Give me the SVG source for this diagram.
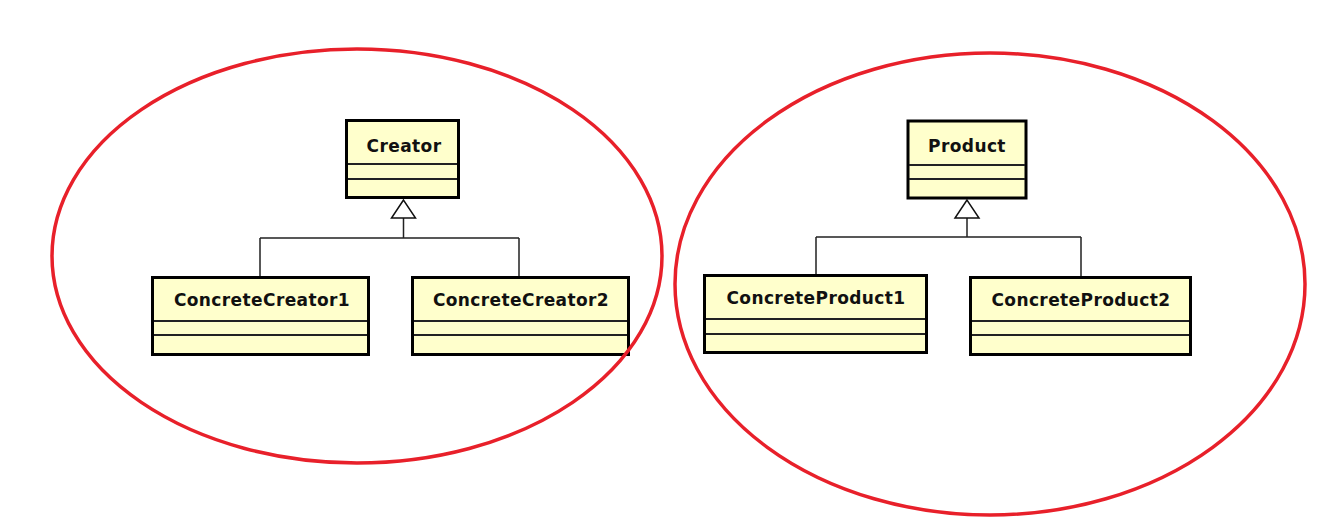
<svg xmlns="http://www.w3.org/2000/svg" width="1336" height="522" viewBox="0 0 1336 522">
<style>
.box{fill:#ffffcc;stroke:#000;stroke-width:3}
.div{stroke:#222;stroke-width:2}
.lbl{font-family:"DejaVu Sans",sans-serif;font-weight:bold;font-size:17px;fill:#111;text-anchor:middle;letter-spacing:0.4px}
.conn{fill:none;stroke:#222;stroke-width:1.5}
.tri{fill:#fff;stroke:#111;stroke-width:1.5}
.oval{fill:none;stroke:#e8202a;stroke-width:3.5}
</style>
<rect width="1336" height="522" fill="#fff"/>
<g id="connectors">
<path class="conn" d="M403.5 218 V238 M260 238 H519 M260 238 V276 M519 238 V276"/>
<path class="tri" d="M403.5 200 L391.5 218 L415.5 218 Z"/>
<path class="conn" d="M967 218 V237 M816 237 H1081 M816 237 V274 M1081 237 V276"/>
<path class="tri" d="M967 200 L955 218 L979 218 Z"/>
</g>
<g id="Creator">
<rect class="box" x="346.5" y="120.5" width="112" height="77"/>
<line class="div" x1="348" y1="164" x2="457" y2="164"/>
<line class="div" x1="348" y1="179" x2="457" y2="179"/>
<text class="lbl" x="404" y="152">Creator</text>
</g>
<g id="ConcreteCreator1">
<rect class="box" x="152.5" y="277.5" width="216" height="77"/>
<line class="div" x1="154" y1="321" x2="367" y2="321"/>
<line class="div" x1="154" y1="335" x2="367" y2="335"/>
<text class="lbl" x="262" y="306">ConcreteCreator1</text>
</g>
<g id="ConcreteCreator2">
<rect class="box" x="412.5" y="277.5" width="216" height="77"/>
<line class="div" x1="414" y1="321" x2="627" y2="321"/>
<line class="div" x1="414" y1="335" x2="627" y2="335"/>
<text class="lbl" x="521" y="306">ConcreteCreator2</text>
</g>
<g id="Product">
<rect class="box" x="908" y="121" width="118" height="77"/>
<line class="div" x1="909" y1="165" x2="1025" y2="165"/>
<line class="div" x1="909" y1="179" x2="1025" y2="179"/>
<text class="lbl" x="967" y="152">Product</text>
</g>
<g id="ConcreteProduct1">
<rect class="box" x="704.5" y="275.5" width="222" height="77"/>
<line class="div" x1="706" y1="319" x2="925" y2="319"/>
<line class="div" x1="706" y1="334" x2="925" y2="334"/>
<text class="lbl" x="816" y="304">ConcreteProduct1</text>
</g>
<g id="ConcreteProduct2">
<rect class="box" x="970.5" y="277.5" width="220" height="77"/>
<line class="div" x1="972" y1="321" x2="1189" y2="321"/>
<line class="div" x1="972" y1="335" x2="1189" y2="335"/>
<text class="lbl" x="1081" y="306">ConcreteProduct2</text>
</g>
<g id="groups">
<ellipse class="oval" cx="357" cy="256" rx="305" ry="207"/>
<ellipse class="oval" cx="990" cy="284" rx="315" ry="231"/>
</g>
</svg>
